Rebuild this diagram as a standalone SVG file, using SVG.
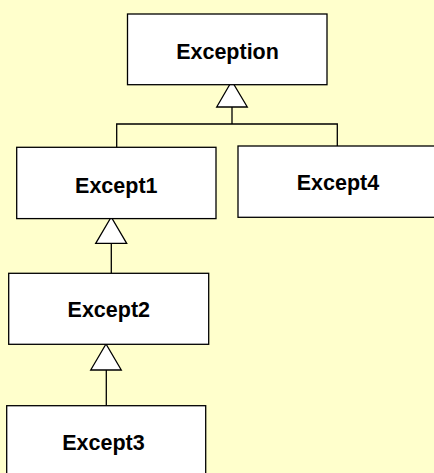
<svg xmlns="http://www.w3.org/2000/svg" width="434" height="473" viewBox="0 0 434 473">
<style>
.box{fill:#ffffff;stroke:#000;stroke-width:1.3}
.lbl{font-family:"Liberation Sans",Arial,sans-serif;font-weight:bold;font-size:21.5px;fill:#000;text-anchor:middle}
.ln{fill:none;stroke:#000;stroke-width:1.3}
.tri{fill:#ffffff;stroke:#000;stroke-width:1.3}
</style>
<rect x="0" y="0" width="434" height="473" fill="#ffffcc"/>
<g id="connectors">
<path class="ln" d="M232 107 V124 M116.7 147.3 V124 H337.3 V146"/>
<polygon class="tri" points="231.8,81 216.7,107 247.3,107"/>
<path class="ln" d="M111.3 243.3 V273.3"/>
<polygon class="tri" points="111.2,217 95.7,243.3 126.7,243.3"/>
<path class="ln" d="M106.3 370 V405.7"/>
<polygon class="tri" points="106,344 90.7,370 121.3,370"/>
</g>
<g id="Exception">
<rect class="box" x="127.5" y="14" width="199.5" height="70.7"/>
<text class="lbl" x="227.5" y="58.5">Exception</text>
</g>
<g id="Except1">
<rect class="box" x="16.7" y="147.3" width="199.3" height="71.3"/>
<text class="lbl" x="116.3" y="192.5">Except1</text>
</g>
<g id="Except4">
<rect class="box" x="238" y="146" width="200" height="71.3"/>
<text class="lbl" x="338" y="190.2">Except4</text>
</g>
<g id="Except2">
<rect class="box" x="8.7" y="273.3" width="200" height="71"/>
<text class="lbl" x="108.8" y="316.9">Except2</text>
</g>
<g id="Except3">
<rect class="box" x="6.7" y="405.7" width="199" height="80"/>
<text class="lbl" x="103.5" y="450.2">Except3</text>
</g>
</svg>
